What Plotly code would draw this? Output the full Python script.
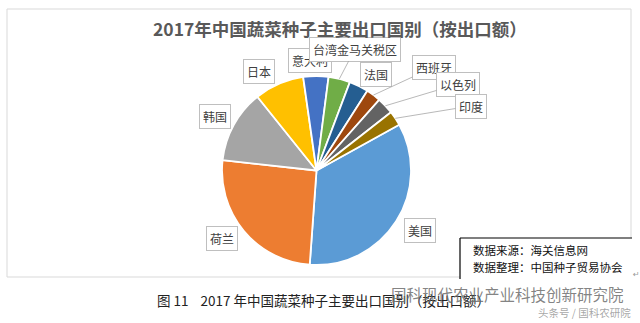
import math
import plotly.graph_objects as go

# ---------------- data ----------------
countries = ["美国", "荷兰", "韩国", "日本", "意大利", "台湾金马关税区",
             "法国", "西班牙", "以色列", "印度"]
shares = [34.2, 25.6, 12.5, 8.5, 4.3, 3.7, 3.3, 2.5, 2.9, 2.5]
colors = ["#5B9BD5", "#ED7D31", "#A5A5A5", "#FFC000", "#4472C4", "#70AD47",
          "#255E91", "#9E480E", "#636363", "#997300"]
start_angle = 61  # degrees clockwise from 12 o'clock

title_text = "2017年中国蔬菜种子主要出口国别（按出口额）"
source_lines = ["数据来源：海关信息网", "数据整理：中国种子贸易协会"]
caption_text = "图 11    2017 年中国蔬菜种子主要出口国别（按出口额）"
watermark_text = "国科现代农业产业科技创新研究院"
watermark_sub = "头条号 / 国科农研院"

# ---------------- layout helpers ----------------
W, H = 640, 323
def X(px): return px / W
def Y(py): return 1 - py / H

cx, cy, r = 316.5, 170.5, 94.5
FONT = "Noto Sans CJK SC"

# label box centres (pixels) and whether they have leader lines
label_pos = {
    "美国": (420, 230, False),
    "荷兰": (222, 238, False),
    "韩国": (215, 117, False),
    "日本": (259, 71, False),
    "意大利": (310, 61, False),
    "台湾金马关税区": (355, 49, True),
    "法国": (376, 74, False),
    "西班牙": (434, 67, True),
    "以色列": (458, 84, True),
    "印度": (471, 106, True),
}

fig = go.Figure(go.Pie(
    labels=countries, values=shares, sort=False, direction="clockwise",
    rotation=start_angle,
    marker=dict(colors=colors, line=dict(color="white", width=1.8)),
    textinfo="none", hoverinfo="label+percent", showlegend=False,
    domain=dict(x=[X(cx - r), X(cx + r)], y=[Y(cy + r), Y(cy - r)]),
))

annotations = []
# compute slice mid-angles from data
total = sum(shares)
acc = start_angle
mids = {}
for c, v in zip(countries, shares):
    ang = v / total * 360
    mids[c] = acc + ang / 2
    acc += ang

for c in countries:
    bx, by, leader = label_pos[c]
    common = dict(text=c, xref="paper", yref="paper",
                  xanchor="center", yanchor="middle",
                  font=dict(family=FONT, size=12, color="#404040"),
                  bgcolor="white", bordercolor="#bfbfbf", borderwidth=1,
                  borderpad=3)
    if leader:
        a = math.radians(mids[c])
        tx = cx + r * math.sin(a)
        ty = cy - r * math.cos(a)
        annotations.append(dict(common, x=X(tx), y=Y(ty), showarrow=True,
                                ax=bx - tx, ay=by - ty, axref="pixel", ayref="pixel",
                                arrowhead=0, arrowwidth=0.8, arrowcolor="#a6a6a6",
                                standoff=0, startstandoff=0))
    else:
        annotations.append(dict(common, x=X(bx), y=Y(by), showarrow=False))


def txt(text, px, py, size, color, xanchor="center", family=FONT):
    return dict(text=text, x=X(px), y=Y(py), xanchor=xanchor, yanchor="middle",
                xref="paper", yref="paper", showarrow=False,
                font=dict(family=family, size=size, color=color))

# title
annotations.append(txt("<b>" + title_text + "</b>", 340, 28, 17.5, "#595959"))
# source box text
for i, t in enumerate(source_lines):
    annotations.append(txt(t, 471, 250 + i * 17, 11.5, "#111111", "left"))
# caption
annotations.append(txt(caption_text, 155, 300, 13.5, "#222222", "left"))
# watermark
annotations.append(txt(watermark_text, 389, 294, 15.5, "rgba(110,110,110,0.85)", "left"))
annotations.append(txt(watermark_sub, 633, 312, 10.5, "rgba(150,150,150,0.85)", "right"))
annotations.append(txt("↵", 636, 274, 8, "#999999", "center", "DejaVu Sans"))

shapes = [
    # chart frame
    dict(type="rect", xref="paper", yref="paper", x0=X(7), x1=X(631), y0=Y(277), y1=Y(9),
         line=dict(color="#d9d9d9", width=1), layer="below"),
    # source box
    dict(type="rect", xref="paper", yref="paper", x0=X(460), x1=X(641), y0=Y(281), y1=Y(238),
         fillcolor="white", line=dict(width=0), layer="above"),
    dict(type="line", xref="paper", yref="paper", x0=X(460), x1=X(632), y0=Y(238), y1=Y(238),
         line=dict(color="#000000", width=1.2)),
    dict(type="line", xref="paper", yref="paper", x0=X(460), x1=X(460), y0=Y(238), y1=Y(279),
         line=dict(color="#000000", width=1.2)),
]

fig.update_layout(width=W, height=H, margin=dict(l=0, r=0, t=0, b=0),
                  paper_bgcolor="white", plot_bgcolor="white",
                  annotations=annotations, shapes=shapes)
fig.write_html("out.html")
